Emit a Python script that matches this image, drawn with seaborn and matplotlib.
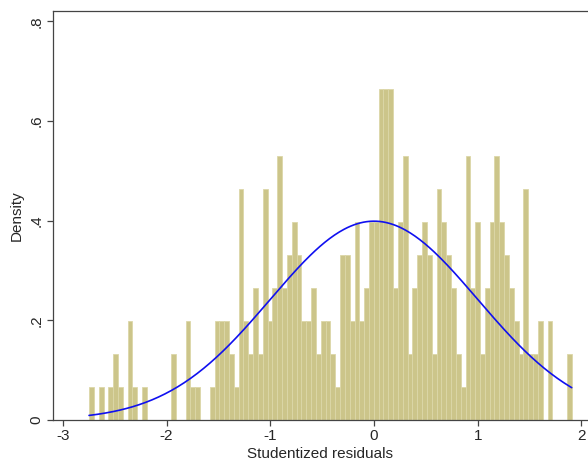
import numpy as np
import pandas as pd
import matplotlib
matplotlib.use("Agg")
import matplotlib.pyplot as plt
import seaborn as sns

# ---- data (counts per bin, 100 equal bins) ----
bin_counts = [
    1, 0, 1, 0, 1, 2, 1, 0, 3, 1,
    0, 1, 0, 0, 0, 0, 0, 2, 0, 0,
    3, 1, 1, 0, 0, 1, 3, 3, 3, 2,
    1, 7, 3, 2, 4, 2, 7, 3, 4, 8,
    4, 5, 6, 5, 3, 3, 4, 2, 3, 3,
    2, 1, 5, 5, 3, 6, 3, 4, 6, 6,
    10, 10, 10, 4, 6, 8, 2, 4, 5, 6,
    5, 2, 7, 6, 5, 4, 2, 1, 8, 4,
    6, 2, 4, 6, 8, 6, 5, 4, 3, 2,
    7, 2, 2, 3, 0, 3, 0, 0, 0, 2,
]
resid_min = -2.747
resid_max = 1.906
n_bins = 100
resid_mean = 0.0
resid_sd = 1.0

x_ticks = [-3, -2, -1, 0, 1, 2]
x_tick_labels = ["-3", "-2", "-1", "0", "1", "2"]
y_ticks = [0, 0.2, 0.4, 0.6, 0.8]
y_tick_labels = ["0", ".2", ".4", ".6", ".8"]
x_title = "Studentized residuals"
y_title = "Density"

# ---- build table ----
edges = np.linspace(resid_min, resid_max, n_bins + 1)
centers = (edges[:-1] + edges[1:]) / 2
df = pd.DataFrame({"resid": centers, "count": bin_counts})

grid = np.linspace(resid_min, resid_max, 300)
pdf = np.exp(-0.5 * ((grid - resid_mean) / resid_sd) ** 2) / (resid_sd * np.sqrt(2 * np.pi))
curve = pd.DataFrame({"resid": grid, "density": pdf})

# ---- style ----
sns.set_theme(style="white")
plt.rcParams["font.family"] = ["Liberation Sans", "DejaVu Sans"]

fig = plt.figure(figsize=(5.88, 4.67), dpi=100)
ax = fig.add_axes([52.7 / 588, 1 - 420 / 467, 1 - 52.7 / 588, (420 - 11) / 467])

sns.histplot(data=df, x="resid", weights="count", bins=edges.tolist(), stat="density",
             color="#CCC58A", edgecolor="#DCD7A8", linewidth=0.6, alpha=1.0, ax=ax)
sns.lineplot(data=curve, x="resid", y="density", color="#1010F0", linewidth=1.2,
             estimator=None, sort=True, ax=ax)

ax.set_xlim((52.7 - 374) / 103.74, (588 - 374) / 103.74)
ax.set_ylim(0, 0.8 + 10.3 / 498.4)

ax.set_xticks(x_ticks)
ax.set_xticklabels(x_tick_labels, fontsize=11)
ax.set_yticks(y_ticks)
ax.set_yticklabels(y_tick_labels, fontsize=11, rotation=90, va="center")
ax.tick_params(axis="both", which="major", direction="out", length=4.5, width=0.9,
               color="#444444", bottom=True, left=True, pad=2)
ax.set_xlabel(x_title, fontsize=11, labelpad=3)
ax.set_ylabel(y_title, fontsize=11, labelpad=4)

for side in ["left", "bottom", "top"]:
    ax.spines[side].set_visible(True)
    ax.spines[side].set_color("#444444")
    ax.spines[side].set_linewidth(0.9)
ax.spines["right"].set_visible(False)

fig.savefig("out.png", dpi=100, facecolor="white")
